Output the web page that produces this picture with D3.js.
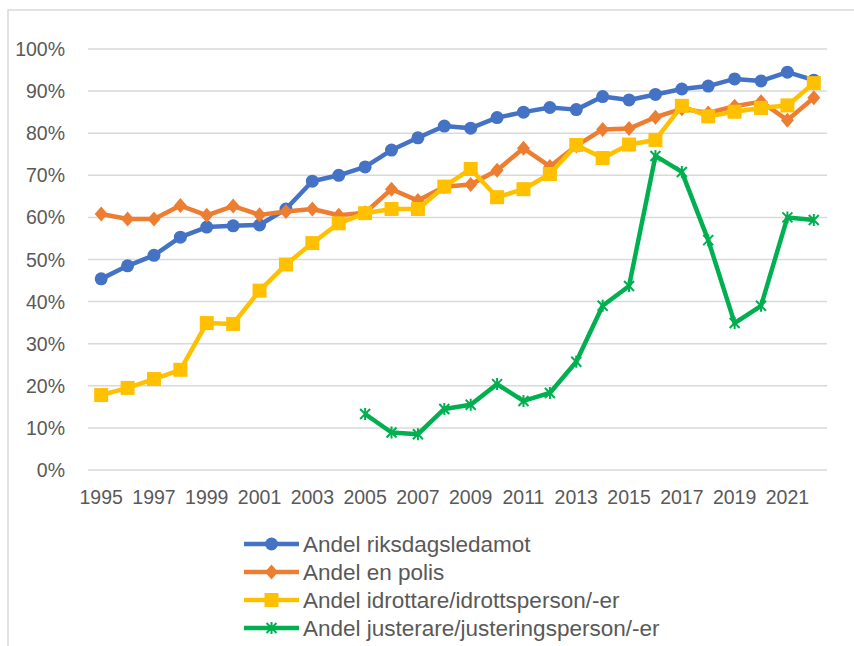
<!DOCTYPE html>
<html>
<head>
<meta charset="utf-8">
<script src="https://cdn.jsdelivr.net/npm/d3@7"></script>
<style>
  body { margin: 0; background: #fff; }
  text { font-family: "Liberation Sans", Arial, sans-serif; fill: #595959; }
</style>
</head>
<body>
<svg id="chart" width="854" height="646"></svg>
<script>
// years on the x axis
var years = d3.range(1995, 2023);
var yTicks = [0, 0.1, 0.2, 0.3, 0.4, 0.5, 0.6, 0.7, 0.8, 0.9, 1.0];

// series values (share)
var riksdag = [0.454, 0.485, 0.510, 0.553, 0.577, 0.580, 0.582, 0.620, 0.686, 0.700, 0.720, 0.760, 0.789, 0.817, 0.812, 0.837, 0.850, 0.861, 0.856, 0.887, 0.879, 0.892, 0.905, 0.912, 0.929, 0.924, 0.945, 0.926];
var polis = [0.608, 0.596, 0.596, 0.628, 0.605, 0.627, 0.606, 0.614, 0.620, 0.605, 0.611, 0.667, 0.640, 0.673, 0.678, 0.712, 0.764, 0.721, 0.770, 0.809, 0.811, 0.838, 0.858, 0.848, 0.864, 0.875, 0.831, 0.884];
var idrott = [0.178, 0.195, 0.216, 0.238, 0.349, 0.347, 0.426, 0.488, 0.539, 0.586, 0.610, 0.620, 0.620, 0.673, 0.715, 0.648, 0.667, 0.703, 0.772, 0.741, 0.773, 0.784, 0.865, 0.840, 0.851, 0.860, 0.866, 0.919];
var juster = [null, null, null, null, null, null, null, null, null, null, 0.133, 0.089, 0.085, 0.145, 0.155, 0.204, 0.164, 0.183, 0.257, 0.390, 0.437, 0.746, 0.708, 0.546, 0.349, 0.390, 0.600, 0.594];

var seriesNames = ["Andel riksdagsledamot", "Andel en polis", "Andel idrottare/idrottsperson/-er", "Andel justerare/justeringsperson/-er"];
var seriesValues = [riksdag, polis, idrott, juster];
var seriesColors = ["#4472C4", "#ED7D31", "#FFC000", "#00B050"];
var seriesMarkers = ["circle", "diamond", "square", "star"];

var svg = d3.select("#chart");

// chart area border
svg.append("rect")
    .attr("x", 8).attr("y", 10)
    .attr("width", 900).attr("height", 700)
    .attr("fill", "none")
    .attr("stroke", "#D9D9D9")
    .attr("stroke-width", 1.5);

var plot = {left: 88, right: 827, top: 49, bottom: 470};

var x = d3.scaleBand()
    .domain(years)
    .range([plot.left, plot.right]);

var y = d3.scaleLinear()
    .domain([0, 1])
    .range([plot.bottom, plot.top]);

function cx(yr) { return x(yr) + x.bandwidth() / 2; }

// gridlines
svg.append("g")
    .selectAll("line")
    .data(yTicks)
    .enter().append("line")
    .attr("x1", plot.left).attr("x2", plot.right)
    .attr("y1", function(d) { return y(d); })
    .attr("y2", function(d) { return y(d); })
    .attr("stroke", "#D9D9D9")
    .attr("stroke-width", 1.5);

// y axis labels
var pct = d3.format(".0%");
svg.append("g")
    .selectAll("text")
    .data(yTicks)
    .enter().append("text")
    .attr("x", 65)
    .attr("y", function(d) { return y(d) + 7; })
    .attr("text-anchor", "end")
    .attr("font-size", 19.5)
    .text(function(d) { return pct(d); });

// x axis labels, every other year
svg.append("g")
    .selectAll("text")
    .data(years.filter(function(d) { return (d - 1995) % 2 === 0; }))
    .enter().append("text")
    .attr("x", function(d) { return cx(d); })
    .attr("y", 504)
    .attr("text-anchor", "middle")
    .attr("font-size", 19.5)
    .text(function(d) { return d; });

function drawMarker(g, type, color) {
  if (type === "circle") {
    g.append("circle").attr("r", 6.5).attr("fill", color);
  } else if (type === "diamond") {
    g.append("path").attr("d", "M0,-7.5L6.5,0L0,7.5L-6.5,0Z").attr("fill", color);
  } else if (type === "square") {
    g.append("rect").attr("x", -7).attr("y", -7).attr("width", 14).attr("height", 14).attr("fill", color);
  } else {
    g.append("path")
      .attr("d", "M-5,-5L5,5M-5,5L5,-5M0,-6L0,6")
      .attr("stroke", color)
      .attr("stroke-width", 2)
      .attr("fill", "none");
  }
}

var line = d3.line()
    .defined(function(d) { return d.v !== null; })
    .x(function(d) { return cx(d.yr); })
    .y(function(d) { return y(d.v); });

seriesValues.forEach(function(vals, i) {
  var pts = years.map(function(yr, j) { return {yr: yr, v: vals[j]}; });
  var g = svg.append("g");
  g.append("path")
    .datum(pts)
    .attr("d", line)
    .attr("fill", "none")
    .attr("stroke", seriesColors[i])
    .attr("stroke-width", 4.5)
    .attr("stroke-linejoin", "round");
  pts.filter(function(d) { return d.v !== null; }).forEach(function(d) {
    var m = g.append("g").attr("transform", "translate(" + cx(d.yr) + "," + y(d.v) + ")");
    drawMarker(m, seriesMarkers[i], seriesColors[i]);
  });
});

// legend
var legend = svg.append("g");
seriesNames.forEach(function(name, i) {
  var ly = 544 + i * 28;
  var row = legend.append("g");
  row.append("line")
    .attr("x1", 244).attr("x2", 299)
    .attr("y1", ly).attr("y2", ly)
    .attr("stroke", seriesColors[i])
    .attr("stroke-width", 4.5);
  var m = row.append("g").attr("transform", "translate(271.5," + ly + ")");
  drawMarker(m, seriesMarkers[i], seriesColors[i]);
  row.append("text")
    .attr("x", 303)
    .attr("y", ly + 8)
    .attr("font-size", 22.5)
    .text(name);
});
</script>
</body>
</html>
